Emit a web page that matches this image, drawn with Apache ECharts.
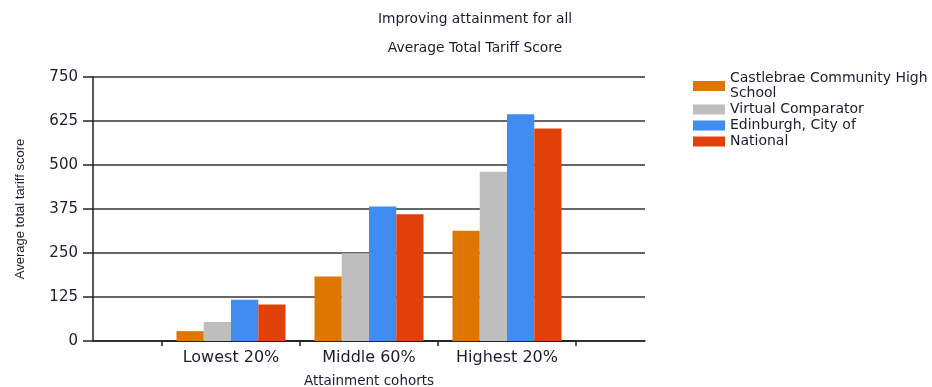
<!DOCTYPE html>
<html>
<head>
<meta charset="utf-8">
<script src="https://cdn.jsdelivr.net/npm/echarts@6/dist/echarts.min.js"></script>
<style>
  html, body { margin: 0; padding: 0; background: #fff; }
  #chart { width: 932px; height: 387px; }
</style>
</head>
<body>
<div id="chart"></div>
<script>
// data
const categories = ['Lowest 20%', 'Middle 60%', 'Highest 20%'];
const castlebrae = [28, 183, 313];
const virtualComparator = [54, 249, 481];
const edinburgh = [117, 382, 644];
const national = [104, 360, 604];
const seriesNames = ['Castlebrae Community High School', 'Virtual Comparator', 'Edinburgh, City of', 'National'];
const yTicks = [0, 125, 250, 375, 500, 625, 750];

const textColor = '#1c1c30';
const font = 'DejaVu Sans';
const colors = ['#de7600', '#bebebe', '#418cf0', '#e0400a'];

let myChart = echarts.init(document.getElementById('chart'));

function barSeries(name, data, idx) {
    return {
        name: name,
        type: 'bar',
        xAxisIndex: 1,
        yAxisIndex: 1,
        data: data,
        barGap: '0%',
        barCategoryGap: '21%',
        itemStyle: { color: colors[idx] },
        animation: false
    };
}

let option = {
    animation: false,
    graphic: [
        {
            type: 'text', x: 475, y: 19,
            style: { text: 'Improving attainment for all', fill: textColor, font: '13.8px "DejaVu Sans"', align: 'center', verticalAlign: 'middle' }
        },
        {
            type: 'text', x: 475, y: 48,
            style: { text: 'Average Total Tariff Score', fill: textColor, font: '13.8px "DejaVu Sans"', align: 'center', verticalAlign: 'middle' }
        }
    ],
    legend: {
        orient: 'vertical',
        left: 693,
        top: 71,
        icon: 'rect',
        itemWidth: 32,
        itemHeight: 10,
        itemGap: 1,
        padding: 0,
        data: seriesNames,
        formatter: function (name) {
            // wrap the long name the way the original does
            return name === seriesNames[0] ? 'Castlebrae Community High\nSchool' : name;
        },
        textStyle: { fontFamily: font, fontSize: 14, lineHeight: 15, color: textColor }
    },
    grid: [
        // frame: y axis, grid lines, full-width x axis line
        { left: 93, right: 287, top: 77, bottom: 46, outerBoundsMode: 'none' },
        // bars: four bands of 138px, half band left empty at each end
        { left: 162, right: 356, top: 77, bottom: 46, outerBoundsMode: 'none' }
    ],
    xAxis: [
        {
            gridIndex: 0,
            type: 'value',
            min: 0,
            max: 1,
            name: 'Attainment cohorts',
            nameLocation: 'middle',
            nameGap: 33,
            nameTextStyle: { fontFamily: font, fontSize: 13.5, color: textColor },
            axisLine: { show: true, lineStyle: { color: '#222', width: 1.5 } },
            axisTick: { show: false },
            axisLabel: { show: false },
            splitLine: { show: false }
        },
        {
            gridIndex: 1,
            type: 'category',
            data: categories,
            axisLine: { show: true, lineStyle: { color: '#222', width: 1.5 } },
            axisTick: { show: true, length: 5, lineStyle: { color: '#222', width: 1.5 } },
            axisLabel: { fontFamily: font, fontSize: 16, color: textColor, margin: 9 }
        }
    ],
    yAxis: [
        {
            gridIndex: 0,
            type: 'value',
            min: yTicks[0],
            max: yTicks[yTicks.length - 1],
            interval: 125,
            name: 'Average total tariff score',
            nameLocation: 'middle',
            nameGap: 66,
            nameTextStyle: { fontFamily: 'Liberation Sans', fontSize: 13, color: textColor },
            axisLine: { show: true, lineStyle: { color: '#222', width: 1.5 } },
            axisTick: { show: true, inside: false, length: 10, lineStyle: { color: '#222', width: 1.5 } },
            axisLabel: { fontFamily: font, fontSize: 15, color: textColor, margin: 15 },
            splitLine: { show: true, lineStyle: { color: '#333', width: 1.5 } }
        },
        {
            gridIndex: 1,
            type: 'value',
            min: yTicks[0],
            max: yTicks[yTicks.length - 1],
            show: false,
            splitLine: { show: false }
        }
    ],
    series: [
        barSeries(seriesNames[0], castlebrae, 0),
        barSeries(seriesNames[1], virtualComparator, 1),
        barSeries(seriesNames[2], edinburgh, 2),
        barSeries(seriesNames[3], national, 3)
    ]
};
myChart.setOption(option);
</script>
</body>
</html>
